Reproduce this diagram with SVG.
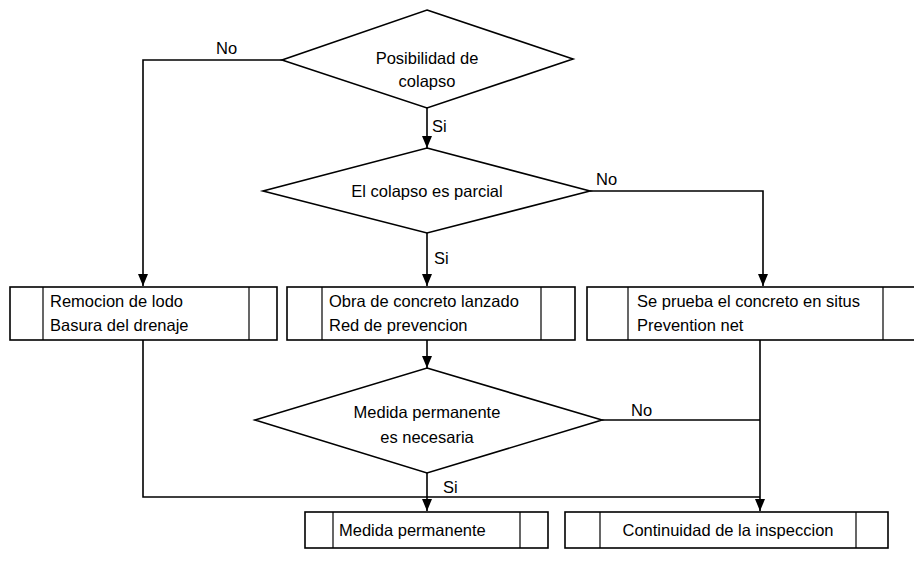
<svg xmlns="http://www.w3.org/2000/svg" width="914" height="566" viewBox="0 0 914 566">
  <defs>
    <marker id="arrow" markerWidth="12" markerHeight="10" refX="12" refY="5" orient="auto" markerUnits="userSpaceOnUse" viewBox="0 0 12 10">
      <path d="M0,0 L12,5 L0,10 Z" fill="#000"/>
    </marker>
    <style>
      .shape { fill: #fff; stroke: #000; stroke-width: 1.6; }
      .div { fill: none; stroke: #000; stroke-width: 1.2; }
      .line { fill: none; stroke: #000; stroke-width: 1.6; }
      .arr { marker-end: url(#arrow); }
      text { font-family: "Liberation Sans", Arial, sans-serif; font-size: 16.5px; fill: #000; }
      .c { text-anchor: middle; }
    </style>
  </defs>
  <rect width="914" height="566" fill="#fff"/>

  <!-- connectors -->
  <g id="connectors">
    <polyline class="line arr" points="282,60 143,60 143,286"/>
    <text x="216" y="54">No</text>
    <line class="line arr" x1="427" y1="108" x2="427" y2="148"/>
    <text x="432" y="132">Si</text>
    <polyline class="line arr" points="590,191 763,191 763,286"/>
    <text x="596" y="185">No</text>
    <line class="line arr" x1="427" y1="233" x2="427" y2="286"/>
    <text x="434" y="264">Si</text>
    <line class="line arr" x1="427" y1="340" x2="427" y2="368"/>
    <polyline class="line" points="602,420 760,420"/>
    <text x="631" y="416">No</text>
    <line class="line arr" x1="760" y1="340" x2="760" y2="511"/>
    <polyline class="line" points="143,340 143,497 760,497"/>
    <line class="line arr" x1="427" y1="473" x2="427" y2="511"/>
    <text x="443" y="493">Si</text>
  </g>

  <!-- decision: possibility of collapse -->
  <g id="d-posibilidad">
    <polygon class="shape" points="427,10 573,59 427,108 282,60"/>
    <text class="c" x="427" y="64">Posibilidad de</text>
    <text class="c" x="427" y="87">colapso</text>
  </g>

  <!-- decision: partial collapse -->
  <g id="d-parcial">
    <polygon class="shape" points="427,148 590,191 427,233 263,191"/>
    <text class="c" x="427" y="197">El colapso es parcial</text>
  </g>

  <!-- process: mud removal -->
  <g id="p-remocion">
    <rect class="shape" x="10" y="287" width="267" height="53"/>
    <line class="div" x1="43" y1="287" x2="43" y2="340"/>
    <line class="div" x1="249" y1="287" x2="249" y2="340"/>
    <text x="50" y="307">Remocion de lodo</text>
    <text x="50" y="331">Basura del drenaje</text>
  </g>

  <!-- process: shotcrete -->
  <g id="p-concreto">
    <rect class="shape" x="287" y="287" width="288" height="53"/>
    <line class="div" x1="322" y1="287" x2="322" y2="340"/>
    <line class="div" x1="541" y1="287" x2="541" y2="340"/>
    <text x="329" y="307">Obra de concreto lanzado</text>
    <text x="329" y="331">Red de prevencion</text>
  </g>

  <!-- process: in-situ concrete test -->
  <g id="p-prueba">
    <rect class="shape" x="587" y="287" width="340" height="53"/>
    <line class="div" x1="628" y1="287" x2="628" y2="340"/>
    <line class="div" x1="883" y1="287" x2="883" y2="340"/>
    <text x="637" y="307">Se prueba el concreto en situs</text>
    <text x="637" y="331">Prevention net</text>
  </g>

  <!-- decision: permanent measure needed -->
  <g id="d-permanente">
    <polygon class="shape" points="427,368 602,420 427,473 255,420"/>
    <text class="c" x="427" y="418">Medida permanente</text>
    <text class="c" x="427" y="443">es necesaria</text>
  </g>

  <!-- process: permanent measure -->
  <g id="p-medida">
    <rect class="shape" x="305" y="512" width="243" height="36"/>
    <line class="div" x1="333" y1="512" x2="333" y2="548"/>
    <line class="div" x1="520" y1="512" x2="520" y2="548"/>
    <text x="339" y="536">Medida permanente</text>
  </g>

  <!-- process: continued inspection -->
  <g id="p-continuidad">
    <rect class="shape" x="565" y="512" width="323" height="36"/>
    <line class="div" x1="600" y1="512" x2="600" y2="548"/>
    <line class="div" x1="856" y1="512" x2="856" y2="548"/>
    <text class="c" x="728" y="536">Continuidad de la inspeccion</text>
  </g>
</svg>
